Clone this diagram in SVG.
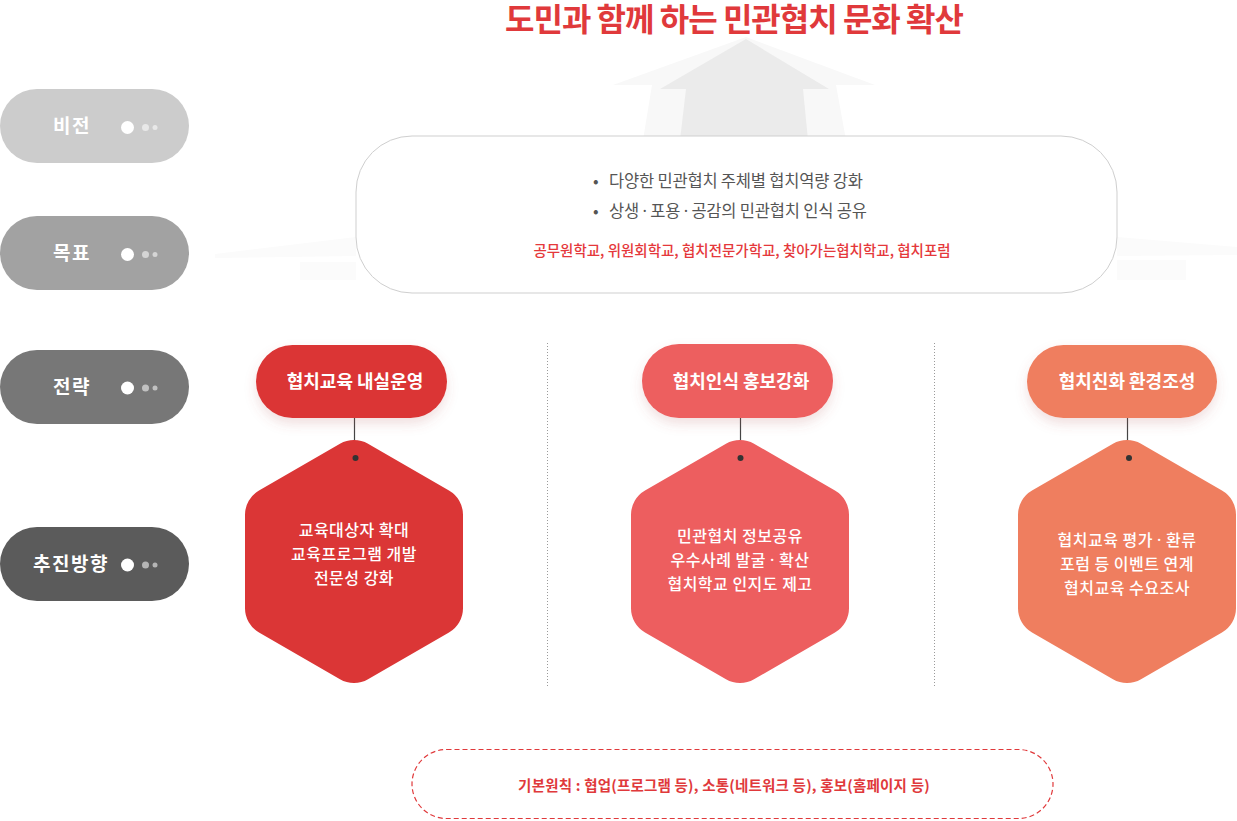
<svg xmlns="http://www.w3.org/2000/svg" width="1237" height="821" viewBox="0 0 1237 821">
<style>
text{font-family:"Noto Sans CJK KR","Noto Sans CJK SC",sans-serif}
.md{font-family:"Noto Sans",sans-serif}
.title{font-size:32px;font-weight:700;fill:#e0393b;letter-spacing:-1px}
.lab{font-size:19px;font-weight:700;fill:#fff;letter-spacing:1.5px}
.bdot{fill:#fff}
.sdot{fill:#fff;fill-opacity:.55}
.goal{font-size:16.5px;fill:#555;letter-spacing:-0.2px}
.prog{font-size:14.5px;fill:#e5383b;font-weight:500}
.str{font-size:18px;font-weight:700;fill:#fff}
.hx{font-size:16px;fill:#fff;font-weight:500;letter-spacing:0.5px}
.conn{stroke:#444;stroke-width:1.2}
.cdot{fill:#333}
.div{stroke:#9a9a9a;stroke-width:1;stroke-dasharray:1 2}
.base{font-size:14.5px;font-weight:700;fill:#e0393b;letter-spacing:0.2px}
</style>
<defs>
<filter id="sh" x="-30%" y="-30%" width="160%" height="180%">
<feDropShadow dx="0" dy="6" stdDeviation="6" flood-color="#b05050" flood-opacity="0.18"/>
</filter>
<path id="hex" d="M -14.03,-117.76 A 28 28 0 0 1 14.03,-117.76 L 94.97,-71.03 A 28 28 0 0 1 109,-46.73 L 109,46.73 A 28 28 0 0 1 94.97,71.03 L 14.03,117.76 A 28 28 0 0 1 -14.03,117.76 L -94.97,71.03 A 28 28 0 0 1 -109,46.73 L -109,-46.73 A 28 28 0 0 1 -94.97,-71.03 Z"/>
</defs>

<g id="background">
<polygon points="746,37 875,85 836,85 846,140 643,140 652,85 613,85" fill="#f8f8f8"/>
<polygon points="746,39 829,89 803,89 808,140 680,140 686,89 660,89" fill="#ebebeb"/>
<polygon points="215,254 356,237 356,256 215,258" fill="#fbfbfb"/>
<rect x="300" y="262" width="56" height="18" fill="#fbfbfb"/>
<polygon points="1117,237 1237,247 1237,255 1117,256" fill="#fbfbfb"/>
<rect x="1117" y="260" width="69" height="20" fill="#fbfbfb"/>
</g>

<g id="title">
<text class="title" x="734" y="31" text-anchor="middle">도민과 함께 하는 민관협치 문화 확산</text>
</g>

<g id="label-vision">
<rect x="0" y="89" width="189" height="74" rx="37" fill="#cccccc"/>
<text class="lab" x="72" y="133" text-anchor="middle">비전</text>
<circle class="bdot" cx="127.5" cy="127.5" r="6.5"/><circle class="sdot" cx="145.5" cy="127.5" r="3.5"/><circle class="sdot" cx="155" cy="127.5" r="2.5"/>
</g>
<g id="label-goal">
<rect x="0" y="216" width="189" height="74" rx="37" fill="#a2a2a2"/>
<text class="lab" x="72" y="260" text-anchor="middle">목표</text>
<circle class="bdot" cx="127.5" cy="254.5" r="6.5"/><circle class="sdot" cx="145.5" cy="254.5" r="3.5"/><circle class="sdot" cx="155" cy="254.5" r="2.5"/>
</g>
<g id="label-strategy">
<rect x="0" y="350" width="189" height="74" rx="37" fill="#777777"/>
<text class="lab" x="72" y="394" text-anchor="middle">전략</text>
<circle class="bdot" cx="127.5" cy="388" r="6.5"/><circle class="sdot" cx="145.5" cy="388" r="3.5"/><circle class="sdot" cx="155" cy="388" r="2.5"/>
</g>
<g id="label-direction">
<rect x="0" y="527" width="189" height="74" rx="37" fill="#5b5b5b"/>
<text class="lab" x="71" y="571" text-anchor="middle">추진방향</text>
<circle class="bdot" cx="127.5" cy="565" r="6.5"/><circle class="sdot" cx="145.5" cy="565" r="3.5"/><circle class="sdot" cx="155" cy="565" r="2.5"/>
</g>

<g id="goal-box">
<rect x="356" y="136" width="761" height="157" rx="56" fill="#ffffff" stroke="#cfcfcf" stroke-width="1"/>
<text class="goal" x="593" y="187">•</text>
<text class="goal" x="609" y="187">다양한 민관협치 주체별 협치역량 강화</text>
<text class="goal" x="593" y="217">•</text>
<text class="goal" x="609" y="217">상생 <tspan class="md">·</tspan> 포용 <tspan class="md">·</tspan> 공감의 민관협치 인식 공유</text>
<text class="prog" x="742" y="256" text-anchor="middle">공무원학교, 위원회학교, 협치전문가학교, 찾아가는협치학교, 협치포럼</text>
</g>

<g id="dividers">
<line class="div" x1="547.5" y1="343" x2="547.5" y2="686"/>
<line class="div" x1="934.5" y1="343" x2="934.5" y2="686"/>
</g>

<g id="connectors">
<line class="conn" x1="354.5" y1="418" x2="354.5" y2="441"/>
<line class="conn" x1="740.5" y1="418" x2="740.5" y2="441"/>
<line class="conn" x1="1127.5" y1="418" x2="1127.5" y2="441"/>
</g>

<g id="strategy-1">
<rect x="256" y="345" width="191" height="73" rx="36.5" fill="#db3535" filter="url(#sh)"/>
<text class="str" x="355" y="388" text-anchor="middle">협치교육 내실운영</text>
</g>
<g id="strategy-2">
<rect x="642" y="344" width="191" height="74" rx="37" fill="#ed5e5f" filter="url(#sh)"/>
<text class="str" x="741" y="388" text-anchor="middle">협치인식 홍보강화</text>
</g>
<g id="strategy-3">
<rect x="1027" y="345" width="190" height="73" rx="36.5" fill="#ef7e5f" filter="url(#sh)"/>
<text class="str" x="1127" y="388" text-anchor="middle">협치친화 환경조성</text>
</g>

<g id="direction-1">
<use href="#hex" x="354" y="561.5" fill="#db3636"/>
<circle class="cdot" cx="355.5" cy="458" r="3"/>
<text class="hx" x="354" y="535.5" text-anchor="middle">교육대상자 확대</text>
<text class="hx" x="354" y="559.5" text-anchor="middle">교육프로그램 개발</text>
<text class="hx" x="354" y="583.5" text-anchor="middle">전문성 강화</text>
</g>
<g id="direction-2">
<use href="#hex" x="740" y="561.5" fill="#ed5e5f"/>
<circle class="cdot" cx="740.5" cy="458" r="3"/>
<text class="hx" x="740" y="541.5" text-anchor="middle">민관협치 정보공유</text>
<text class="hx" x="740" y="565.5" text-anchor="middle">우수사례 발굴 <tspan class="md">·</tspan> 확산</text>
<text class="hx" x="740" y="589.5" text-anchor="middle">협치학교 인지도 제고</text>
</g>
<g id="direction-3">
<use href="#hex" x="1127" y="561.5" fill="#ef7e5f"/>
<circle class="cdot" cx="1129" cy="458" r="3"/>
<text class="hx" x="1127" y="545.5" text-anchor="middle">협치교육 평가 <tspan class="md">·</tspan> 환류</text>
<text class="hx" x="1127" y="569.5" text-anchor="middle">포럼 등 이벤트 연계</text>
<text class="hx" x="1127" y="593.5" text-anchor="middle">협치교육 수요조사</text>
</g>

<g id="principle">
<rect x="412" y="749.5" width="641" height="69" rx="34.5" fill="none" stroke="#e0393b" stroke-width="1.2" stroke-dasharray="5 3"/>
<text class="base" x="724" y="791" text-anchor="middle">기본원칙 : 협업(프로그램 등), 소통(네트워크 등), 홍보(홈페이지 등)</text>
</g>
</svg>
